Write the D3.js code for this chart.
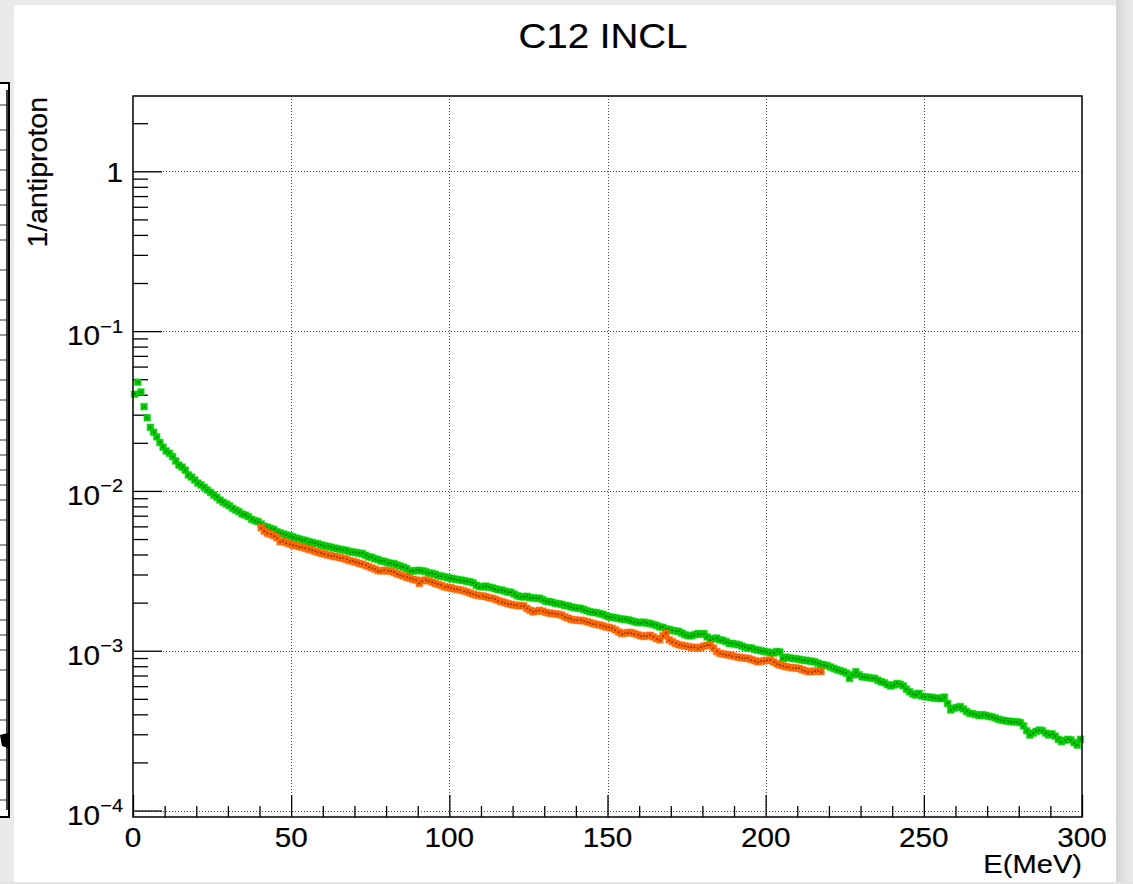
<!DOCTYPE html>
<html><head><meta charset="utf-8">
<script src="https://cdn.jsdelivr.net/npm/d3@7"></script>
<style>html,body{margin:0;padding:0;background:#ebe9ea;overflow:hidden}</style>
</head><body><div id="chart"></div>
<script>
const title = "C12 INCL";
const xTitle = "E(MeV)";
const yTitle = "1/antiproton";
const xTickValues = [0, 50, 100, 150, 200, 250, 300];
const yTickValues = [1e-4, 1e-3, 1e-2, 1e-1, 1];
const yTickBase = ["10", "10", "10", "10", "1"];
const yTickExp = ["\u22124", "\u22123", "\u22122", "\u22121", ""];
const binWidth = 1;
const greenStart = 0;
const greenValues = [
0.0403,0.0479,0.0416,0.0337,0.0287,0.0250,0.0233,0.0218,0.0201,0.0188,
0.0178,0.0172,0.0164,0.0154,0.0145,0.0141,0.0135,0.0126,0.0122,0.0117,
0.0112,0.0109,0.01054,0.01014,0.00979,0.00942,0.00912,0.00877,0.00849,0.00828,
0.00807,0.00778,0.00759,0.00741,0.00716,0.00706,0.00690,0.00664,0.00652,0.00643,
0.00621,0.00601,0.00593,0.00583,0.00574,0.00556,0.00546,0.00538,0.00530,0.00524,
0.00516,0.00507,0.00501,0.00493,0.00490,0.00481,0.00476,0.00470,0.00467,0.00459,
0.00453,0.00450,0.00445,0.00439,0.00436,0.00431,0.00427,0.00424,0.00417,0.00414,
0.00412,0.00407,0.00406,0.00396,0.00387,0.00384,0.00376,0.00372,0.00364,0.00362,
0.00356,0.00352,0.00351,0.00344,0.00339,0.00333,0.00327,0.00316,0.00315,0.00318,
0.00318,0.00316,0.00313,0.00306,0.00305,0.00301,0.00295,0.00293,0.00290,0.00286,
0.00284,0.00281,0.00279,0.00277,0.00275,0.00272,0.00270,0.00266,0.00257,0.00252,
0.00251,0.00254,0.00250,0.00248,0.00244,0.00241,0.00240,0.00236,0.00233,0.00232,
0.00226,0.00221,0.00218,0.00217,0.00219,0.00215,0.00214,0.00213,0.00213,0.00209,
0.00204,0.00203,0.00201,0.00198,0.00197,0.00195,0.00192,0.00191,0.00188,0.00186,
0.00185,0.00184,0.00181,0.00178,0.00175,0.00174,0.00173,0.00171,0.00169,0.00166,
0.00163,0.00162,0.00161,0.00159,0.00158,0.00157,0.00156,0.00154,0.00152,0.00150,
0.00150,0.00151,0.00149,0.00148,0.00146,0.00144,0.00141,0.00140,0.00137,0.00136,
0.00134,0.00133,0.00132,0.00129,0.00126,0.00124,0.00124,0.00126,0.00128,0.00127,
0.00128,0.00122,0.00117,0.00119,0.00120,0.00117,0.00116,0.00114,0.00111,0.00111,
0.00110,0.00109,0.00107,0.00105,0.00104,0.00104,0.00102,0.00101,0.00100,0.000993,
0.000982,0.000973,0.000966,0.000989,0.000982,0.000895,0.000912,0.000902,0.000895,0.000891,
0.000885,0.000875,0.000871,0.000865,0.000859,0.000853,0.000836,0.000822,0.000815,0.000807,
0.000791,0.000776,0.000762,0.000750,0.000740,0.000724,0.000671,0.000708,0.000740,0.000708,
0.000687,0.000684,0.000679,0.000673,0.000671,0.000653,0.000640,0.000631,0.000614,0.000601,
0.000610,0.000624,0.000617,0.000603,0.000575,0.000553,0.000537,0.000528,0.000541,0.000519,
0.000515,0.000513,0.000511,0.000504,0.000506,0.000501,0.000513,0.000468,0.000426,0.000437,
0.000442,0.000447,0.000432,0.000417,0.000406,0.000403,0.000398,0.000393,0.000398,0.000394,
0.000389,0.000386,0.000380,0.000373,0.000368,0.000365,0.000363,0.000360,0.000359,0.000359,
0.000355,0.000339,0.000316,0.000297,0.000305,0.000313,0.000319,0.000316,0.000305,0.000297,
0.000302,0.000292,0.000279,0.000270,0.000275,0.000279,0.000277,0.000266,0.000257,0.000279
];
const orangeStart = 40;
const orangeValues = [
0.00589,0.00561,0.00543,0.00535,0.00525,0.00509,0.00481,0.00485,0.00474,0.00466,
0.00458,0.00455,0.00448,0.00445,0.00438,0.00431,0.00427,0.00419,0.00413,0.00407,
0.00404,0.00397,0.00394,0.00389,0.00387,0.00382,0.00378,0.00373,0.00366,0.00363,
0.00358,0.00352,0.00348,0.00342,0.00336,0.00330,0.00324,0.00317,0.00316,0.00319,
0.00315,0.00316,0.00309,0.00303,0.00298,0.00294,0.00288,0.00284,0.00280,0.00277,
0.00264,0.00275,0.00277,0.00274,0.00269,0.00264,0.00260,0.00256,0.00251,0.00249,
0.00248,0.00244,0.00242,0.00240,0.00237,0.00234,0.00230,0.00226,0.00223,0.00221,
0.00220,0.00218,0.00215,0.00213,0.00210,0.00206,0.00203,0.00200,0.00197,0.00195,
0.00193,0.00192,0.00191,0.00191,0.00184,0.00179,0.00175,0.00177,0.00179,0.00177,
0.00174,0.00172,0.00171,0.00170,0.00169,0.00167,0.00163,0.00160,0.00157,0.00156,
0.00155,0.00155,0.00154,0.00152,0.00150,0.00148,0.00146,0.00145,0.00143,0.00141,
0.00140,0.00138,0.00135,0.00131,0.00128,0.00129,0.00130,0.00130,0.00128,0.00126,
0.00124,0.00123,0.00124,0.00125,0.00122,0.00119,0.00117,0.00124,0.00129,0.00117,
0.00114,0.00111,0.00109,0.00108,0.00107,0.00106,0.00105,0.00105,0.00104,0.00105,
0.00107,0.00108,0.00109,0.00104,0.000989,0.000964,0.000955,0.000946,0.000940,0.000929,
0.000918,0.000910,0.000904,0.000899,0.000895,0.000881,0.000867,0.000853,0.000859,0.000867,
0.000871,0.000875,0.000851,0.000828,0.000813,0.000804,0.000794,0.000787,0.000783,0.000780,
0.000776,0.000762,0.000750,0.000740,0.000741,0.000745,0.000746,0.000741
];

const W = 1133, H = 884;
const FONT = "'Liberation Sans', Arial, Helvetica, sans-serif";
const svg = d3.select("#chart").append("svg").attr("width", W).attr("height", H)
  .style("display", "block");

// window background
const defs = svg.append("defs");
const grad = defs.append("linearGradient").attr("id", "rg").attr("x1", "0").attr("x2", "1");
grad.append("stop").attr("offset", "0").attr("stop-color", "#d6d6d6");
grad.append("stop").attr("offset", "1").attr("stop-color", "#ececec");
svg.append("rect").attr("width", W).attr("height", H).attr("fill", "#ebe9ea");
svg.append("rect").attr("x", 14).attr("y", 5).attr("width", 1102).attr("height", 877).attr("fill", "#ffffff");
svg.append("rect").attr("x", 1116).attr("y", 0).attr("width", 17).attr("height", H).attr("fill", "url(#rg)");
svg.append("rect").attr("x", 0).attr("y", 882).attr("width", W).attr("height", 2).attr("fill", "#e4e4e4");
// partially hidden window at left edge
const lw = svg.append("g");
lw.append("rect").attr("x", -4).attr("y", 83).attr("width", 13).attr("height", 734)
  .attr("fill", "#fff").attr("stroke", "#000").attr("stroke-width", 2);
[105,130,150,170,190,205,225,240,270,300,320,335,360,380,400,420,440,455,470,485,500,520,545,560,580,600,620,635,650,670,700,720,760,780,800].forEach(v => {
  lw.append("line").attr("x1", 0).attr("x2", 7).attr("y1", v).attr("y2", v)
    .attr("stroke", "#333").attr("stroke-width", 1);
});
lw.append("line").attr("x1", 7).attr("x2", 7).attr("y1", 90).attr("y2", 810).attr("stroke", "#000").attr("stroke-width", 1.5);
lw.append("path").attr("d", "M0,735 L8,733 L8,748 L2,746 Z").attr("fill", "#000");

const x = d3.scaleLinear().domain([0, 300]).range([133, 1082]);
const y = d3.scaleLog().domain([9.11e-5, 2.96]).range([817, 96]);
const [X0, X1] = x.range();
const [Y0, Y1] = y.range();

// grid
const grid = svg.append("g").attr("stroke", "#444").attr("stroke-width", 1).attr("stroke-dasharray", "1,2");
xTickValues.filter(v => v > 0 && v < 300).forEach(v => {
  grid.append("line").attr("x1", Math.round(x(v)) + 0.5).attr("x2", Math.round(x(v)) + 0.5)
    .attr("y1", Y1).attr("y2", Y0);
});
yTickValues.forEach(v => {
  grid.append("line").attr("y1", Math.round(y(v)) + 0.5).attr("y2", Math.round(y(v)) + 0.5)
    .attr("x1", X0).attr("x2", X1);
});

// axes ticks (inside)
const yMinor = y.ticks().filter(v => yTickValues.indexOf(v) < 0);
function styleAxis(g) {
  g.select(".domain").remove();
  g.selectAll("line").attr("stroke", "#000").attr("stroke-width", 1.3);
  g.selectAll("text").remove();
}
svg.append("g").attr("transform", `translate(${X0},0)`)
  .call(d3.axisLeft(y).tickValues(yMinor).tickSizeInner(-15).tickSizeOuter(0).tickFormat(""))
  .call(styleAxis);
svg.append("g").attr("transform", `translate(${X0},0)`)
  .call(d3.axisLeft(y).tickValues(yTickValues).tickSizeInner(-29).tickSizeOuter(0).tickFormat(""))
  .call(styleAxis);
const xMinor = d3.range(0, 301, 10).filter(v => v % 50 !== 0);
svg.append("g").attr("transform", `translate(0,${Y0})`)
  .call(d3.axisBottom(x).tickValues(xMinor).tickSizeInner(-11).tickSizeOuter(0).tickFormat(""))
  .call(styleAxis);
svg.append("g").attr("transform", `translate(0,${Y0})`)
  .call(d3.axisBottom(x).tickValues(xTickValues).tickSizeInner(-22).tickSizeOuter(0).tickFormat(""))
  .call(styleAxis);

// data markers
function drawSeries(values, start, color) {
  const data = values.map((v, i) => ({ e: start + (i + 0.5) * binWidth, v }));
  const g = svg.append("g");
  g.selectAll("rect.m").data(data).enter().append("rect").attr("class", "m")
    .attr("x", d => x(d.e) - 3.25).attr("y", d => y(d.v) - 3.25)
    .attr("width", 6.5).attr("height", 6.5)
    .attr("fill", color).attr("stroke", color).attr("stroke-opacity", 0.4).attr("stroke-width", 1.4);
  g.selectAll("rect.d").data(data).enter().append("rect").attr("class", "d")
    .attr("x", d => Math.round(x(d.e)) - 0.5).attr("y", d => Math.round(y(d.v)) - 0.5)
    .attr("width", 1.2).attr("height", 1.2).attr("fill", "#111");
}
drawSeries(greenValues, greenStart, "#00cc00");
drawSeries(orangeValues, orangeStart, "#ff6600");

// frame
svg.append("rect").attr("x", X0).attr("y", Y1).attr("width", X1 - X0).attr("height", Y0 - Y1)
  .attr("fill", "none").attr("stroke", "#000").attr("stroke-width", 1.5);

// text helper
function txt(px, py, s, size, anchor, sx, rot) {
  const g = svg.append("g").attr("transform", `translate(${px},${py})` + (rot ? ` rotate(${rot})` : "") + ` scale(${sx},1)`);
  return g.append("text").attr("x", 0).attr("y", 0).attr("font-family", FONT).attr("font-size", size)
    .attr("text-anchor", anchor).attr("fill", "#000")
    .attr("stroke", "#000").attr("stroke-width", 0.2).text(s);
}

// x tick labels
xTickValues.forEach(v => txt(x(v), 847, String(v), 27, "middle", 1.1));
// y tick labels
yTickValues.forEach((v, i) => {
  const yy = y(v);
  if (yTickExp[i]) {
    txt(100, yy + 14, yTickBase[i], 27, "end", 1.1);
    txt(123, yy + 1.5, yTickExp[i], 19, "end", 1.05);
  } else {
    txt(123, yy + 11, yTickBase[i], 27, "end", 1.1);
  }
});
// titles
txt(603, 48, title, 35, "middle", 1.1);
txt(1082, 873, xTitle, 26, "end", 1.12);
txt(47, 97, yTitle, 28.5, "end", 1.0, -90);
</script>
</body></html>
